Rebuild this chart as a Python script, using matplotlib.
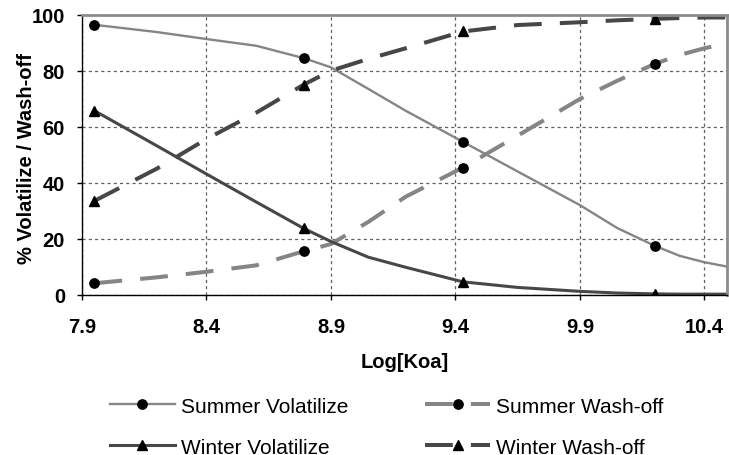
import numpy as np
import matplotlib.pyplot as plt

# Log[Koa] values
log_koa = [7.95, 8.2, 8.4, 8.6, 8.79, 8.9, 9.05, 9.2, 9.43, 9.65,
           9.9, 10.05, 10.2, 10.3, 10.4, 10.5]

summer_vol = [96.4, 93.8, 91.3, 88.9, 84.5, 81.2, 73.5, 65.7, 54.6, 44.0,
              32.0, 23.8, 17.5, 13.9, 11.6, 9.9]
summer_wash = [4.1, 6.2, 8.2, 10.5, 15.5, 18.1, 26.0, 35.0, 45.4, 56.8,
               69.9, 76.4, 82.4, 85.6, 88.0, 90.0]
winter_vol = [65.7, 53.2, 43.1, 33.1, 23.7, 19.0, 13.4, 9.8, 4.6, 2.6,
              1.2, 0.6, 0.3, 0.2, 0.2, 0.2]
winter_wash = [33.5, 45.0, 55.6, 65.0, 75.0, 80.0, 84.2, 88.0, 94.0, 96.3,
               97.3, 98.0, 98.5, 98.8, 99.0, 99.0]

# only these points carry a marker
marker_idx = [0, 4, 8, 12]

xticks = [7.9, 8.4, 8.9, 9.4, 9.9, 10.4]
yticks = [0, 20, 40, 60, 80, 100]

light = '#858585'
dark = '#474747'

plt.rcParams['font.family'] = ['Liberation Sans', 'DejaVu Sans']

fig = plt.figure(figsize=(7.29, 4.56), dpi=100)
ax = fig.add_axes([0.1125, 0.3515, 0.8845, 0.6141])

dash = (6.9, 4.5)
sv, = ax.plot(log_koa, summer_vol, color=light, lw=1.7, marker='o', ms=6.7,
              mfc='black', mec='black', markevery=marker_idx, label='Summer Volatilize')
sw, = ax.plot(log_koa, summer_wash, color=light, lw=2.9, dashes=dash, marker='o', ms=6.7,
              mfc='black', mec='black', markevery=marker_idx, label='Summer Wash-off')
wv, = ax.plot(log_koa, winter_vol, color=dark, lw=2.2, marker='^', ms=7.5,
              mfc='black', mec='black', markevery=marker_idx, label='Winter Volatilize')
ww, = ax.plot(log_koa, winter_wash, color=dark, lw=2.9, dashes=dash, marker='^', ms=7.5,
              mfc='black', mec='black', markevery=marker_idx, label='Winter Wash-off')

ax.set_xlim(7.9, 10.49)
ax.set_ylim(0, 100)
ax.set_xticks(xticks)
ax.set_yticks(yticks)
ax.set_xticklabels([str(t) for t in xticks])
ax.tick_params(labelsize=14.5, width=1, length=3.8, direction='out')
ax.tick_params(axis='x', pad=12.5)
ax.tick_params(axis='y', pad=8.5)
for lab in ax.get_xticklabels() + ax.get_yticklabels():
    lab.set_fontweight('bold')

ax.grid(True, color='#606060', lw=0.9, linestyle=(0, (2.5, 2.5)))
ax.set_axisbelow(True)

for side in ['top', 'right']:
    ax.spines[side].set_color('#8c8c8c')
    ax.spines[side].set_linewidth(2)
for side in ['left', 'bottom']:
    ax.spines[side].set_color('black')
    ax.spines[side].set_linewidth(1)

ax.set_xlabel('Log[Koa]', fontsize=14.5, fontweight='bold')
ax.set_ylabel('% Volatilize / Wash-off', fontsize=14.5, fontweight='bold')
ax.xaxis.set_label_coords(0.5, -0.205)
ax.yaxis.set_label_coords(-0.072, 0.49)

fig.legend([sv, wv, sw, ww], [sv.get_label(), wv.get_label(), sw.get_label(), ww.get_label()],
           ncol=2, loc='upper left', bbox_to_anchor=(0.151, 0.128),
           frameon=False, fontsize=15, numpoints=1, handlelength=3.1,
           handletextpad=0.3, columnspacing=3.7, labelspacing=1.05,
           borderpad=0, borderaxespad=0)

fig.savefig('out.png', dpi=100)
